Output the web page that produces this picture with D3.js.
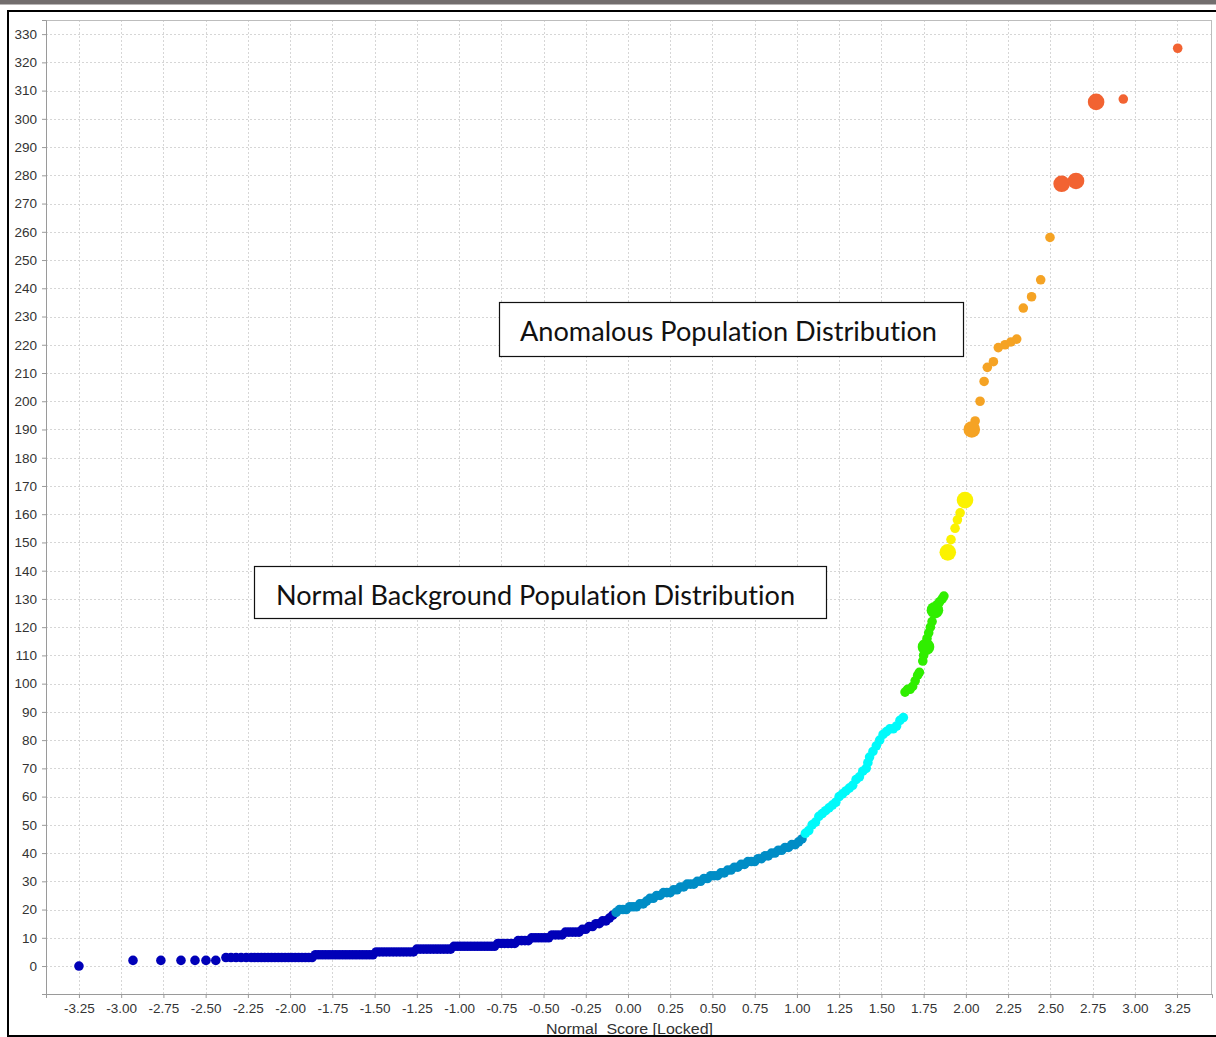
<!DOCTYPE html>
<html>
<head>
<meta charset="utf-8">
<script src="https://cdn.jsdelivr.net/npm/d3@7"></script>
<style>
  body { margin: 0; background: #ffffff; }
  svg { display: block; }
</style>
</head>
<body>
<svg id="chart" width="1216" height="1037"></svg>
<script>
// Ordered sample as [normal score, value] pairs, grouped by value range.
const lowTail = [
  [-3.25, 0],
  [-2.93, 2], [-2.765, 2], [-2.646, 2], [-2.563, 2], [-2.498, 2], [-2.44, 2],
  [-2.38, 3], [-2.35, 3], [-2.32, 3], [-2.29, 3], [-2.26, 3], [-2.23, 3], [-2.21, 3], [-2.19, 3],
  [-2.17, 3], [-2.15, 3], [-2.13, 3], [-2.11, 3], [-2.09, 3], [-2.07, 3], [-2.05, 3], [-2.03, 3],
  [-2.01, 3], [-1.99, 3], [-1.97, 3], [-1.95, 3], [-1.93, 3], [-1.91, 3], [-1.89, 3], [-1.87, 3],
  [-1.85, 4], [-1.83, 4], [-1.81, 4], [-1.79, 4], [-1.77, 4], [-1.75, 4], [-1.73, 4], [-1.71, 4],
  [-1.69, 4], [-1.67, 4], [-1.65, 4], [-1.63, 4], [-1.61, 4], [-1.59, 4], [-1.57, 4], [-1.55, 4],
  [-1.53, 4], [-1.51, 4],
  [-1.49, 5], [-1.47, 5], [-1.45, 5], [-1.43, 5], [-1.41, 5], [-1.39, 5], [-1.37, 5], [-1.35, 5],
  [-1.33, 5], [-1.31, 5], [-1.29, 5], [-1.27, 5],
  [-1.25, 6], [-1.23, 6], [-1.21, 6], [-1.19, 6], [-1.17, 6], [-1.15, 6], [-1.13, 6], [-1.11, 6],
  [-1.09, 6], [-1.07, 6], [-1.05, 6],
  [-1.03, 7], [-1.01, 7], [-0.99, 7], [-0.97, 7], [-0.95, 7], [-0.93, 7], [-0.91, 7], [-0.89, 7],
  [-0.87, 7], [-0.85, 7], [-0.83, 7], [-0.81, 7], [-0.79, 7],
  [-0.77, 8], [-0.75, 8], [-0.73, 8], [-0.71, 8], [-0.69, 8], [-0.67, 8],
  [-0.65, 9], [-0.63, 9], [-0.61, 9], [-0.59, 9],
  [-0.57, 10], [-0.55, 10], [-0.53, 10], [-0.51, 10], [-0.49, 10], [-0.47, 10],
  [-0.45, 11], [-0.43, 11], [-0.41, 11], [-0.39, 11],
  [-0.37, 12], [-0.35, 12], [-0.33, 12], [-0.31, 12], [-0.29, 12],
  [-0.27, 13], [-0.25, 13], [-0.23, 14], [-0.21, 14], [-0.19, 15], [-0.17, 15],
  [-0.15, 16], [-0.13, 16], [-0.11, 17], [-0.09, 18]
];
const middle = [
  [-0.07, 19], [-0.05, 20], [-0.03, 20], [-0.01, 20], [0.01, 21], [0.03, 21], [0.05, 21], [0.07, 22],
  [0.09, 22], [0.11, 23], [0.13, 24], [0.15, 24], [0.17, 25], [0.19, 25], [0.21, 26], [0.23, 26],
  [0.25, 26], [0.27, 27], [0.29, 27], [0.31, 28], [0.33, 28], [0.35, 29], [0.37, 29], [0.39, 29],
  [0.41, 30], [0.43, 30], [0.45, 31], [0.47, 31], [0.49, 32], [0.51, 32], [0.53, 32], [0.55, 33],
  [0.57, 33], [0.59, 34], [0.61, 34], [0.63, 35], [0.65, 35], [0.67, 36], [0.69, 36], [0.71, 37],
  [0.73, 37], [0.75, 37], [0.77, 38], [0.79, 38], [0.81, 39], [0.83, 39], [0.85, 40], [0.87, 40],
  [0.89, 41], [0.91, 41], [0.93, 42], [0.95, 42], [0.97, 43], [0.99, 43], [1.01, 44], [1.03, 45]
];
const upperBody = [
  [1.05, 47], [1.07, 48], [1.09, 50], [1.11, 51], [1.13, 53], [1.15, 54], [1.17, 55], [1.19, 56],
  [1.21, 57], [1.23, 58], [1.25, 60], [1.27, 61], [1.29, 62], [1.31, 63], [1.33, 64], [1.35, 66],
  [1.37, 67], [1.39, 69], [1.41, 70], [1.42, 72], [1.43, 74], [1.45, 76], [1.47, 78], [1.49, 80],
  [1.51, 82], [1.53, 83], [1.55, 84], [1.57, 84], [1.59, 85], [1.61, 87], [1.63, 88]
];
const highTail = [
  [1.64, 97], [1.655, 98], [1.67, 98], [1.685, 99], [1.70, 101], [1.715, 103], [1.725, 104],
  [1.745, 108], [1.75, 110], [1.77, 116], [1.78, 118], [1.79, 120], [1.80, 122], [1.83, 128],
  [1.845, 129], [1.86, 130], [1.87, 131],
  [1.912, 151], [1.936, 155], [1.95, 158], [1.966, 160.5],
  [2.055, 193], [2.084, 200], [2.108, 207], [2.127, 212], [2.163, 214], [2.192, 219], [2.232, 220],
  [2.267, 221], [2.301, 222], [2.34, 233], [2.389, 237], [2.443, 243], [2.498, 258],
  [2.932, 307], [3.254, 325]
];

// Markers that stand for several tied observations: [normal score, value, count].
const tiedPoints = [
  [1.764, 113, 3], [1.817, 126, 3], [1.893, 146.5, 3], [1.995, 165, 3],
  [2.035, 190, 3], [2.567, 277, 3], [2.652, 278, 3], [2.771, 306, 3]
];

// Value bands and their colours.
const bandBreaks = [19, 46, 92, 140, 180, 268];
const bandColors = ["#0000b8", "#008dc6", "#00fafa", "#30ee00", "#fbf200", "#f5a324", "#f26332"];

const xTickValues = [-3.25, -3.00, -2.75, -2.50, -2.25, -2.00, -1.75, -1.50, -1.25, -1.00, -0.75, -0.50, -0.25,
  0.00, 0.25, 0.50, 0.75, 1.00, 1.25, 1.50, 1.75, 2.00, 2.25, 2.50, 2.75, 3.00, 3.25];
const yTickValues = [0, 10, 20, 30, 40, 50, 60, 70, 80, 90, 100, 110, 120, 130, 140, 150, 160, 170, 180, 190,
  200, 210, 220, 230, 240, 250, 260, 270, 280, 290, 300, 310, 320, 330];

const xTitle = "Normal  Score [Locked]";
const noteTexts = ["Anomalous Population Distribution", "Normal Background Population Distribution"];

// ---- layout ----
const plot = { left: 46, right: 1212, top: 20, bottom: 994 };
const svg = d3.select("#chart");

const x = d3.scaleLinear().domain([-3.445, 3.457]).range([plot.left, plot.right]);
const y = d3.scaleLinear().domain([-9.9, 335]).range([plot.bottom, plot.top]);
const color = d3.scaleThreshold().domain(bandBreaks).range(bandColors);
const r = d3.scaleSqrt().domain([0, 3]).range([0, 8.3]);

// window chrome
svg.append("rect").attr("x", 0).attr("y", 0).attr("width", 1216).attr("height", 4.5).attr("fill", "#726d6d");
svg.append("line").attr("x1", 7).attr("x2", 1216).attr("y1", 11).attr("y2", 11).attr("stroke", "#000").attr("stroke-width", 2);
svg.append("line").attr("x1", 8).attr("x2", 8).attr("y1", 10).attr("y2", 1037).attr("stroke", "#000").attr("stroke-width", 2);

// grid
const grid = svg.append("g").attr("stroke", "#d6d6d6").attr("stroke-width", 1).attr("stroke-dasharray", "2,2");
grid.selectAll("line.v").data(xTickValues).join("line")
  .attr("x1", d => Math.round(x(d)) + 0.5).attr("x2", d => Math.round(x(d)) + 0.5)
  .attr("y1", plot.top).attr("y2", plot.bottom);
grid.selectAll("line.h").data(yTickValues).join("line")
  .attr("y1", d => Math.round(y(d)) + 0.5).attr("y2", d => Math.round(y(d)) + 0.5)
  .attr("x1", plot.left).attr("x2", plot.right);

// plot frame
svg.append("rect")
  .attr("x", plot.left + 0.5).attr("y", plot.top + 0.5)
  .attr("width", plot.right - plot.left - 1).attr("height", plot.bottom - plot.top)
  .attr("fill", "none").attr("stroke", "#bdbdbd");

// axes
const fmt = d => d.toFixed(2);
const xAxis = svg.append("g").attr("transform", `translate(0,${plot.bottom})`)
  .call(d3.axisBottom(x).tickValues(xTickValues).tickFormat(fmt).tickSize(4).tickPadding(5));
const yAxis = svg.append("g").attr("transform", `translate(${plot.left},0)`)
  .call(d3.axisLeft(y).tickValues(yTickValues).tickFormat(d3.format("d")).tickSize(4).tickPadding(5));
[xAxis, yAxis].forEach(g => {
  g.select(".domain").attr("stroke", "#9a9a9a");
  g.selectAll(".tick line").attr("stroke", "#9a9a9a");
  g.selectAll(".tick text")
    .attr("fill", "#333")
    .style("font-family", "'Liberation Sans', Arial, sans-serif")
    .style("font-size", "13.5px");
});

// points
const pts = lowTail.concat(middle, upperBody, highTail).map(p => ({ s: p[0], v: p[1], n: 1 }))
  .concat(tiedPoints.map(p => ({ s: p[0], v: p[1], n: p[2] })));
svg.append("g").selectAll("circle").data(pts).join("circle")
  .attr("cx", d => x(d.s))
  .attr("cy", d => y(d.v))
  .attr("r", d => r(d.n))
  .attr("fill", d => color(d.v));

// annotation boxes
const notes = [
  { box: [499.5, 302.5, 464, 54], tx: 520, ty: 341, len: 417 },
  { box: [254.5, 566.5, 572, 52], tx: 276, ty: 605, len: 519 }
];
notes.forEach((n, i) => {
  svg.append("rect")
    .attr("x", n.box[0]).attr("y", n.box[1]).attr("width", n.box[2]).attr("height", n.box[3])
    .attr("fill", "#fff").attr("stroke", "#111").attr("stroke-width", 1.2);
  svg.append("text")
    .attr("x", n.tx).attr("y", n.ty)
    .attr("textLength", n.len).attr("lengthAdjust", "spacingAndGlyphs")
    .style("font-family", "Lato, 'Open Sans', sans-serif")
    .style("font-size", "26px")
    .style("font-variant-ligatures", "none")
    .attr("fill", "#111")
    .text(noteTexts[i]);
});

// x axis title
svg.append("text")
  .attr("x", 546).attr("y", 1034)
  .attr("textLength", 167).attr("lengthAdjust", "spacingAndGlyphs")
  .style("white-space", "pre")
  .style("font-family", "'Liberation Sans', Arial, sans-serif")
  .style("font-size", "14px")
  .attr("fill", "#333")
  .text(xTitle);

// bottom edge of the window
svg.append("line").attr("x1", 7).attr("x2", 1216).attr("y1", 1036).attr("y2", 1036).attr("stroke", "#000").attr("stroke-width", 2);
</script>
</body>
</html>
